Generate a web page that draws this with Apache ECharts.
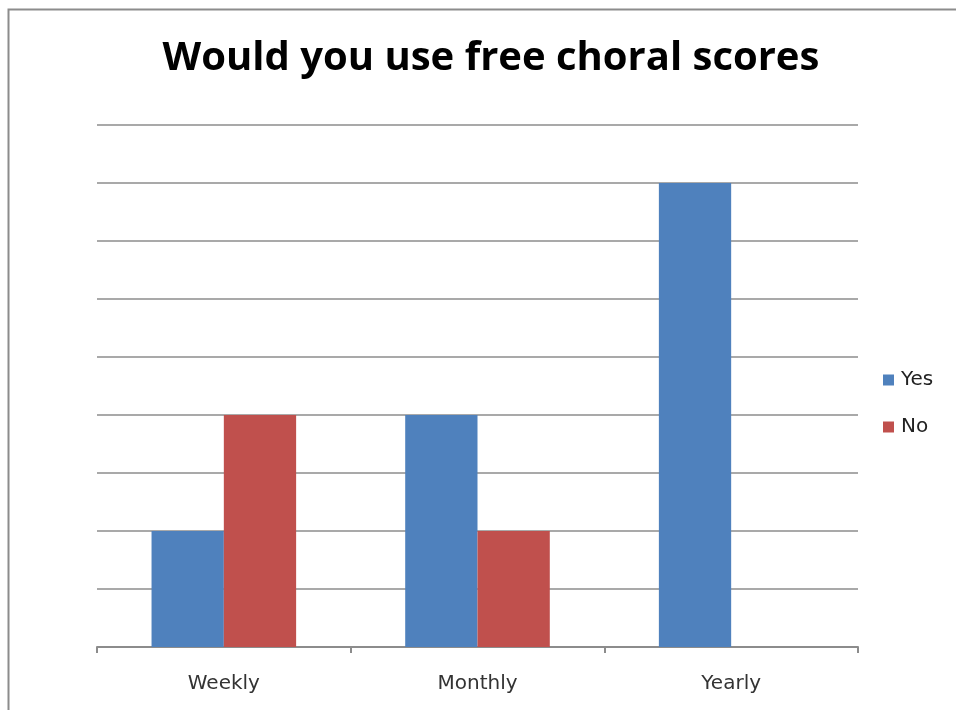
<!DOCTYPE html>
<html><head><meta charset="utf-8">
<script src="https://cdn.jsdelivr.net/npm/echarts@6/dist/echarts.min.js"></script>
<style>html,body{margin:0;padding:0;background:#fff}#c{width:956px;height:710px}</style>
</head><body><div id="c"></div>
<script>
const categories = ["Weekly", "Monthly", "Yearly"];
const yesValues = [2, 4, 8];
const noValues = [4, 2, 0];
const seriesNames = ["Yes", "No"];

const chart = echarts.init(document.getElementById('c'), null, {renderer: 'canvas'});
chart.setOption({
  animation: false,
  backgroundColor: '#fff',
  graphic: [{
    type: 'rect', shape: {x: 8.5, y: 9.5, width: 1000, height: 1000},
    style: {fill: 'none', stroke: '#8c8c8c', lineWidth: 2}, silent: true, z: -1
  }],
  title: {
    text: 'Would you use free choral scores', left: 486, top: 34, textAlign: 'center',
    textStyle: {fontFamily: 'Open Sans', fontWeight: 'bold', fontSize: 40, color: '#000'}
  },
  legend: {
    orient: 'vertical', left: 878, top: 365, itemGap: 27, itemWidth: 11, itemHeight: 11,
    icon: 'rect',
    textStyle: {fontFamily: 'DejaVu Sans', fontSize: 20, color: '#222', padding: [0, 0, 0, 2]},
    data: seriesNames
  },
  grid: {left: 97, right: 98, top: 125, bottom: 63, containLabel: false},
  xAxis: {
    type: 'category', data: categories,
    axisLine: {lineStyle: {color: '#8c8c8c', width: 2}},
    axisTick: {show: true, length: 6, lineStyle: {color: '#8c8c8c', width: 2}},
    axisLabel: {fontFamily: 'DejaVu Sans', fontSize: 20, color: '#333', margin: 27}
  },
  yAxis: {
    type: 'value', min: 0, max: 9, interval: 1,
    axisLabel: {show: false}, axisLine: {show: false}, axisTick: {show: false},
    splitLine: {lineStyle: {color: '#8c8c8c', width: 1.5}}
  },
  series: [
    {name: seriesNames[0], type: 'bar', data: yesValues, barGap: '0%', barCategoryGap: '43%',
     itemStyle: {color: '#4F81BD'}},
    {name: seriesNames[1], type: 'bar', data: noValues, barGap: '0%', barCategoryGap: '43%',
     itemStyle: {color: '#C0504D'}}
  ]
});
</script></body></html>
